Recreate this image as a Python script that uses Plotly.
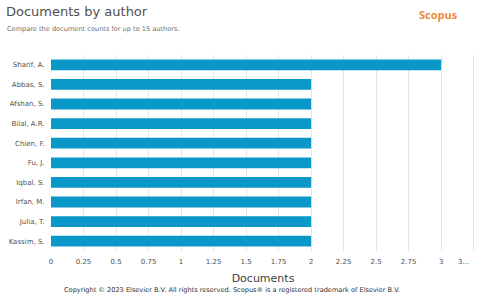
import plotly.graph_objects as go

authors = ["Sharif, A.", "Abbas, S.", "Afshan, S.", "Bilal, A.R.", "Chien, F.",
           "Fu, J.", "Iqbal, S.", "Irfan, M.", "Julia, T.", "Kassim, S."]
documents = [3, 2, 2, 2, 2, 2, 2, 2, 2, 2]
tick_vals = [0, 0.25, 0.5, 0.75, 1, 1.25, 1.5, 1.75, 2, 2.25, 2.5, 2.75, 3, 3.25]
tick_text = ["0", "0.25", "0.5", "0.75", "1", "1.25", "1.5", "1.75", "2", "2.25", "2.5", "2.75", "3", ""]

FONT = "DejaVu Sans"
W, H = 480, 301
l, r, t, b = 51, 5, 55, 50
pw, ph = W - l - r, H - t - b

def px(x):
    return (x - l) / pw

def py(y):
    return (H - b - y) / ph

fig = go.Figure(go.Bar(
    x=documents, y=authors, orientation="h",
    marker=dict(color="#0a98c8", line=dict(width=0)),
    hoverinfo="x+y",
))
fig.update_layout(
    width=W, height=H,
    margin=dict(l=l, r=r, t=t, b=b, autoexpand=False),
    paper_bgcolor="white", plot_bgcolor="white",
    bargap=0.45,
    showlegend=False,
    font=dict(family=FONT, color="#505050"),
    xaxis=dict(range=[0, 3.26], tickvals=tick_vals, ticktext=tick_text,
               showgrid=True, gridcolor="#e6e6e6", gridwidth=1, zeroline=False,
               tickfont=dict(size=7, color="#505050"), ticks="outside", ticklen=4,
               tickcolor="rgba(0,0,0,0)", showline=False,
               automargin=False,
               title=dict(text="Documents", font=dict(size=11, color="#404040"), standoff=8)),
    yaxis=dict(autorange="reversed", showgrid=False, zeroline=False, automargin=False,
               tickfont=dict(size=7, color="#505050"), ticks="outside", ticklen=4,
               tickcolor="rgba(0,0,0,0)", showline=False),
    annotations=[
        dict(text="Documents by author", x=px(4), y=py(12), xref="paper", yref="paper",
             showarrow=False, xanchor="left", yanchor="middle",
             font=dict(size=13, color="#505050")),
        dict(text="Compare the document counts for up to 15 authors.", x=px(5), y=py(29),
             xref="paper", yref="paper",
             showarrow=False, xanchor="left", yanchor="middle",
             font=dict(size=6.6, color="#707070")),
        dict(text="<b>Scopus</b>", x=px(438.5), y=py(14), xref="paper", yref="paper",
             showarrow=False, xanchor="center", yanchor="middle",
             font=dict(size=11, color="#ec8a3e", family="Open Sans")),
        dict(text="3...", x=3.17, y=py(262), xref="x", yref="paper", showarrow=False,
             xanchor="center", yanchor="middle",
             font=dict(size=7, color="#505050")),
        dict(text="Copyright © 2023 Elsevier B.V. All rights reserved. Scopus® is a registered trademark of Elsevier B.V.",
             x=px(232), y=py(290), xref="paper", yref="paper",
             showarrow=False, xanchor="center", yanchor="middle",
             font=dict(size=6.6, color="#303030")),
    ],
)
fig.write_html("out.html", config={"displayModeBar": False},
               post_script="document.body.style.margin='0';")
